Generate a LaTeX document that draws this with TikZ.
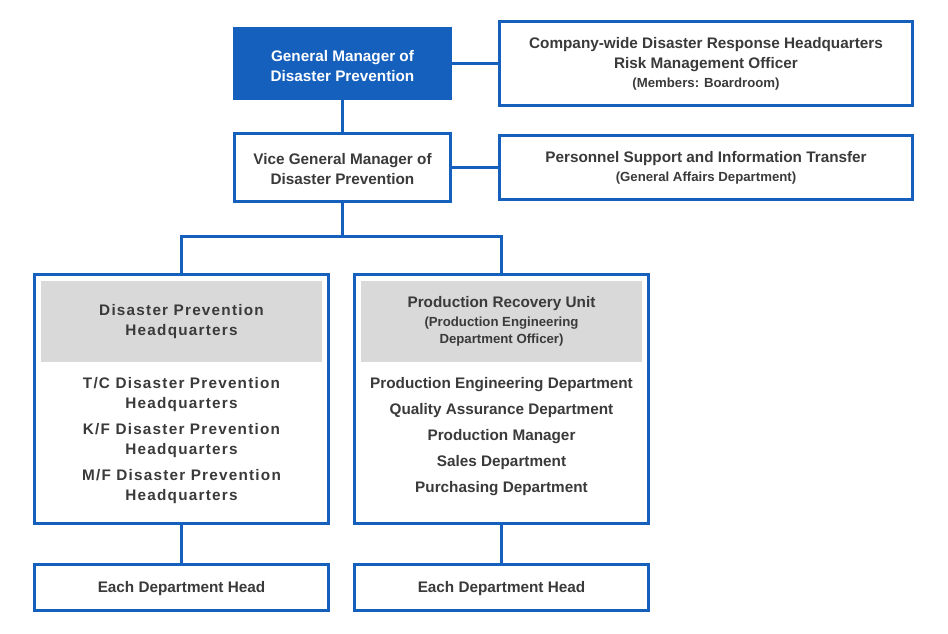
\documentclass[tikz,border=0pt]{standalone}
\usepackage{fontspec}
\setmainfont{Liberation Sans}
\newfontfamily\spacedfont[LetterSpace=8]{Liberation Sans}
\definecolor{orgblue}{HTML}{1560BD}
\definecolor{hdrgray}{HTML}{D9D9D9}
\definecolor{txtgray}{HTML}{3A3A3A}
\begin{document}
\begin{tikzpicture}[x=1pt,y=-1pt,
  box/.style={draw=orgblue,line width=3pt,fill=white,inner sep=0pt,rectangle},
  txt/.style={text=txtgray,align=center,inner sep=0pt,font=\bfseries\fontsize{15.3}{20}\selectfont},
  small/.style={font=\bfseries\fontsize{13.2}{17}\selectfont},
  link/.style={draw=orgblue,line width=3pt}]
\useasboundingbox (0,0) rectangle (948,633);
% boxes
\node[box,fill=orgblue,minimum width=216pt,minimum height=70pt] (gm) at (342.5,63.5) {};
\node[box,minimum width=413pt,minimum height=84pt] (cw) at (706,63.5) {};
\node[box,minimum width=216pt,minimum height=68pt] (vgm) at (342.5,167.5) {};
\node[box,minimum width=413pt,minimum height=64pt] (ps) at (706,167.5) {};
\node[box,minimum width=294pt,minimum height=249pt] (left) at (181.5,399) {};
\node[box,minimum width=294pt,minimum height=249pt] (right) at (501.5,399) {};
\node[fill=hdrgray,inner sep=0pt,minimum width=281pt,minimum height=81pt] (lhdr) at (181.5,321.5) {};
\node[fill=hdrgray,inner sep=0pt,minimum width=281pt,minimum height=81pt] (rhdr) at (501.5,321.5) {};
\node[box,minimum width=294pt,minimum height=46pt] (lhead) at (181.5,587.5) {};
\node[box,minimum width=294pt,minimum height=46pt] (rhead) at (501.5,587.5) {};
% connectors
\coordinate (split) at (342.5,236);
\draw[link] (gm.east) -- (cw.west);
\draw[link] (vgm.east) -- (ps.west);
\draw[link] (gm.south) -- (vgm.north);
\draw[link] (vgm.south) -- (split);
\draw[link] (left.north) |- (split) -| (right.north);
\draw[link] (left.south) -- (lhead.north);
\draw[link] (right.south) -- (rhead.north);
% texts
\node[txt,text=white] (gmt) at (342.5,66) {General Manager of\\Disaster Prevention};
\node[txt] (cwt1) at (706,55) {Company-wide Disaster Response Headquarters\\Risk Management Officer};
\node[txt,small] (cwt2) at (706,84) {(Members: Boardroom)};
\node[txt] (vgmt) at (342.5,169) {Vice General Manager of\\Disaster Prevention};
\node[txt] (pst1) at (706,159) {Personnel Support and Information Transfer};
\node[txt,small] (pst2) at (706,178) {(General Affairs Department)};
\node[txt,font=\spacedfont\bfseries\fontsize{15.3}{20}\selectfont] (lhdrt) at (181.5,321.5) {Disaster Prevention\\Headquarters};
\node[txt] (rhdrt1) at (501.5,303.5) {Production Recovery Unit};
\node[txt,small] (rhdrt2) at (501.5,331.5) {(Production Engineering\\Department Officer)};
\node[txt,font=\spacedfont\bfseries\fontsize{15.3}{20}\selectfont] (llist) at (181.5,440.5)
  {T/C Disaster Prevention\\Headquarters\\[6pt]K/F Disaster Prevention\\Headquarters\\[6pt]M/F Disaster Prevention\\Headquarters};
\node[txt,font=\bfseries\fontsize{15.3}{26}\selectfont] (rlist) at (501.5,436.5)
  {Production Engineering Department\\Quality Assurance Department\\Production Manager\\Sales Department\\Purchasing Department};
\node[txt] (lheadt) at (181.5,589) {Each Department Head};
\node[txt] (rheadt) at (501.5,589) {Each Department Head};
\end{tikzpicture}
\end{document}
